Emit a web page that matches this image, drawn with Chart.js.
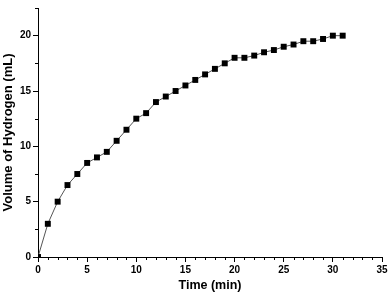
<!DOCTYPE html>
<html>
<head>
<meta charset="utf-8">
<script src="https://cdn.jsdelivr.net/npm/chart.js@4"></script>
<style>
  html, body { margin: 0; padding: 0; background: #fff; }
  #wrap { width: 390px; height: 295px; }
</style>
</head>
<body>
<div id="wrap"><canvas id="myChart" width="390" height="295"></canvas></div>
<script>
// Hydrogen volume, one point per minute
const times = [0, 1, 2, 3, 4, 5, 6, 7, 8, 9, 10, 11, 12, 13, 14, 15,
               16, 17, 18, 19, 20, 21, 22, 23, 24, 25, 26, 27, 28, 29, 30, 31];
const volumes = [0, 3, 5, 6.5, 7.5, 8.5, 9, 9.5, 10.5, 11.5, 12.5, 13, 14, 14.5, 15, 15.5,
                 16, 16.5, 17, 17.5, 18, 18, 18.2, 18.5, 18.7, 19, 19.2, 19.5, 19.5, 19.7, 20, 20];
const xTicks = [0, 5, 10, 15, 20, 25, 30, 35];
const yTicks = [0, 5, 10, 15, 20];

const xTitle = 'Time (min)';
const yTitle = 'Volume of Hydrogen (mL)';

const fontFamily = '"Liberation Sans", Arial, sans-serif';

// small ticks between the labelled ones (1 min on x, 2.5 mL on y)
const minorTicks = {
    id: 'minorTicks',
    afterDraw(chart) {
        const ctx = chart.ctx;
        const x = chart.scales.x;
        const y = chart.scales.y;
        const area = chart.chartArea;
        ctx.save();
        ctx.strokeStyle = '#000';
        ctx.lineWidth = 1;
        ctx.beginPath();
        for (let v = x.min; v <= x.max; v += 1) {
            if (xTicks.includes(v)) continue;
            const px = Math.round(x.getPixelForValue(v)) + 0.5;
            ctx.moveTo(px, area.bottom);
            ctx.lineTo(px, area.bottom + 3);
        }
        for (let v = y.min; v <= y.max; v += 2.5) {
            if (yTicks.includes(v)) continue;
            const py = Math.round(y.getPixelForValue(v)) + 0.5;
            ctx.moveTo(area.left - 3, py);
            ctx.lineTo(area.left, py);
        }
        ctx.stroke();
        ctx.restore();
    }
};

const ctx = document.getElementById('myChart').getContext('2d');
const myChart = new Chart(ctx, {
    type: 'line',
    data: {
        datasets: [{
            data: times.map((t, i) => ({ x: t, y: volumes[i] })),
            borderColor: '#555',
            borderWidth: 1,
            backgroundColor: '#000',
            pointStyle: 'rect',
            pointRadius: 4.2,
            pointBorderWidth: 0,
            pointBackgroundColor: '#000',
            tension: 0,
            fill: false
        }]
    },
    options: {
        responsive: false,
        animation: false,
        maintainAspectRatio: false,
        layout: { padding: { top: 2, right: 8, left: 0, bottom: 0 } },
        plugins: {
            legend: { display: false },
            tooltip: { enabled: false }
        },
        scales: {
            x: {
                type: 'linear',
                min: 0,
                max: 35,
                afterFit: scale => { scale.height = 38; },
                afterBuildTicks: scale => { scale.ticks = xTicks.map(v => ({ value: v })); },
                grid: { drawOnChartArea: false, color: '#000', tickLength: 5 },
                border: { color: '#000', width: 1 },
                ticks: {
                    color: '#000',
                    padding: 2,
                    maxRotation: 0,
                    font: { family: fontFamily, size: 10, weight: 'bold' }
                },
                title: {
                    display: true,
                    text: xTitle,
                    color: '#000',
                    padding: { top: 2, bottom: 2 },
                    font: { family: fontFamily, size: 12.5, weight: 'bold' }
                }
            },
            y: {
                min: 0,
                max: 22.5,
                afterFit: scale => { scale.width = 38; },
                afterBuildTicks: scale => { scale.ticks = yTicks.map(v => ({ value: v })); },
                grid: { drawOnChartArea: false, color: '#000', tickLength: 5 },
                border: { color: '#000', width: 1 },
                ticks: {
                    color: '#000',
                    padding: 2,
                    font: { family: fontFamily, size: 10, weight: 'bold' }
                },
                title: {
                    display: true,
                    text: yTitle,
                    color: '#000',
                    padding: { top: 1, bottom: 0 },
                    font: { family: fontFamily, size: 13, weight: 'bold' }
                }
            }
        }
    },
    plugins: [minorTicks]
});
</script>
</body>
</html>
